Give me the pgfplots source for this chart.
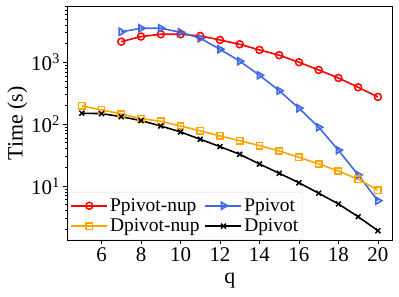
\documentclass[border=0pt]{standalone}
\usepackage{fontspec}
\setmainfont{Liberation Serif}
\usepackage{pgfplots}
\pgfplotsset{compat=1.18}
\definecolor{royal}{HTML}{4169E1}
\definecolor{orng}{HTML}{FFA500}
\begin{document}
\begin{tikzpicture}
\useasboundingbox (-67bp,-56.3bp) rectangle (332bp,240.7bp);
\begin{axis}[
  scale only axis,
  width=325.7bp, height=234.7bp,
  xmin=4.25, xmax=20.75,
  ymode=log, ymin=1.31, ymax=8100,
  xtick={6,8,...,20},
  ytick={10,100,1000},
  yticklabels={10\textsuperscript{1},10\textsuperscript{2},10\textsuperscript{3}},
  minor ytick={2,3,4,5,6,7,8,9,20,30,40,50,60,70,80,90,200,300,400,500,600,700,800,900,2000,3000,4000,5000,6000,7000,8000},
  tick align=outside,
  xtick pos=bottom, ytick pos=left,
  major tick length=3.5bp, minor tick length=2bp,
  tick style={black, line width=0.6bp},
  axis line style={line width=0.8bp},
  /pgf/number format/assume math mode=true,
  ticklabel style={font=\fontsize{21}{23}\selectfont},
  xlabel={q}, ylabel={Time (s)},
  label style={font=\fontsize{22}{24}\selectfont},
  xlabel style={yshift=-4bp},
  ylabel style={yshift=-3bp},
  legend columns=2,
  legend cell align=left,
  legend style={at={(0.004,0.003)}, anchor=south west, draw=black!15, rounded corners=2bp,
    fill=white, fill opacity=0.8, text opacity=1,
    font=\fontsize{19.5}{21}\selectfont, inner xsep=2bp, inner ysep=4.5bp, row sep=2bp,
    /tikz/every even column/.append style={column sep=3bp}},
  legend image code/.code={\draw[mark repeat=2,mark phase=2] plot coordinates {(0bp,0bp) (18bp,0bp) (36bp,0bp)};},
  every axis plot/.append style={line width=1.6bp, mark size=3.5bp, mark options={solid, fill=none, line width=1.5bp}},
]
\addplot[red, mark=o] coordinates {
(7,2150) (8,2600) (9,2830) (10,2830) (11,2660) (12,2290) (13,1950) (14,1580) (15,1300) (16,1000) (17,750) (18,557) (19,394) (20,275)};
\addlegendentry{Ppivot-nup}
\addplot[royal, mark=triangle, mark size=4bp, mark options={rotate=-90, solid, fill=none}] coordinates {
(7,3100) (8,3540) (9,3540) (10,3050) (11,2440) (12,1620) (13,1040) (14,616) (15,347) (16,181) (17,89) (18,38) (19,15.1) (20,5.8)};
\addlegendentry{Ppivot}
\addplot[orng, mark=square, mark size=3.2bp] coordinates {
(5,197) (6,170) (7,146) (8,123) (9,111) (10,93.5) (11,78) (12,64.5) (13,54) (14,45) (15,36.9) (16,29.2) (17,22.7) (18,17.5) (19,12.9) (20,8.6)};
\addlegendentry{Dpivot-nup}
\addplot[black, mark=x, mark size=3.5bp] coordinates {
(5,150) (6,148) (7,132) (8,114) (9,93.5) (10,74.8) (11,57) (12,43.3) (13,32.6) (14,22.7) (15,16.1) (16,11.3) (17,7.66) (18,5.14) (19,3.2) (20,1.9)};
\addlegendentry{Dpivot}
\end{axis}
\end{tikzpicture}
\end{document}
